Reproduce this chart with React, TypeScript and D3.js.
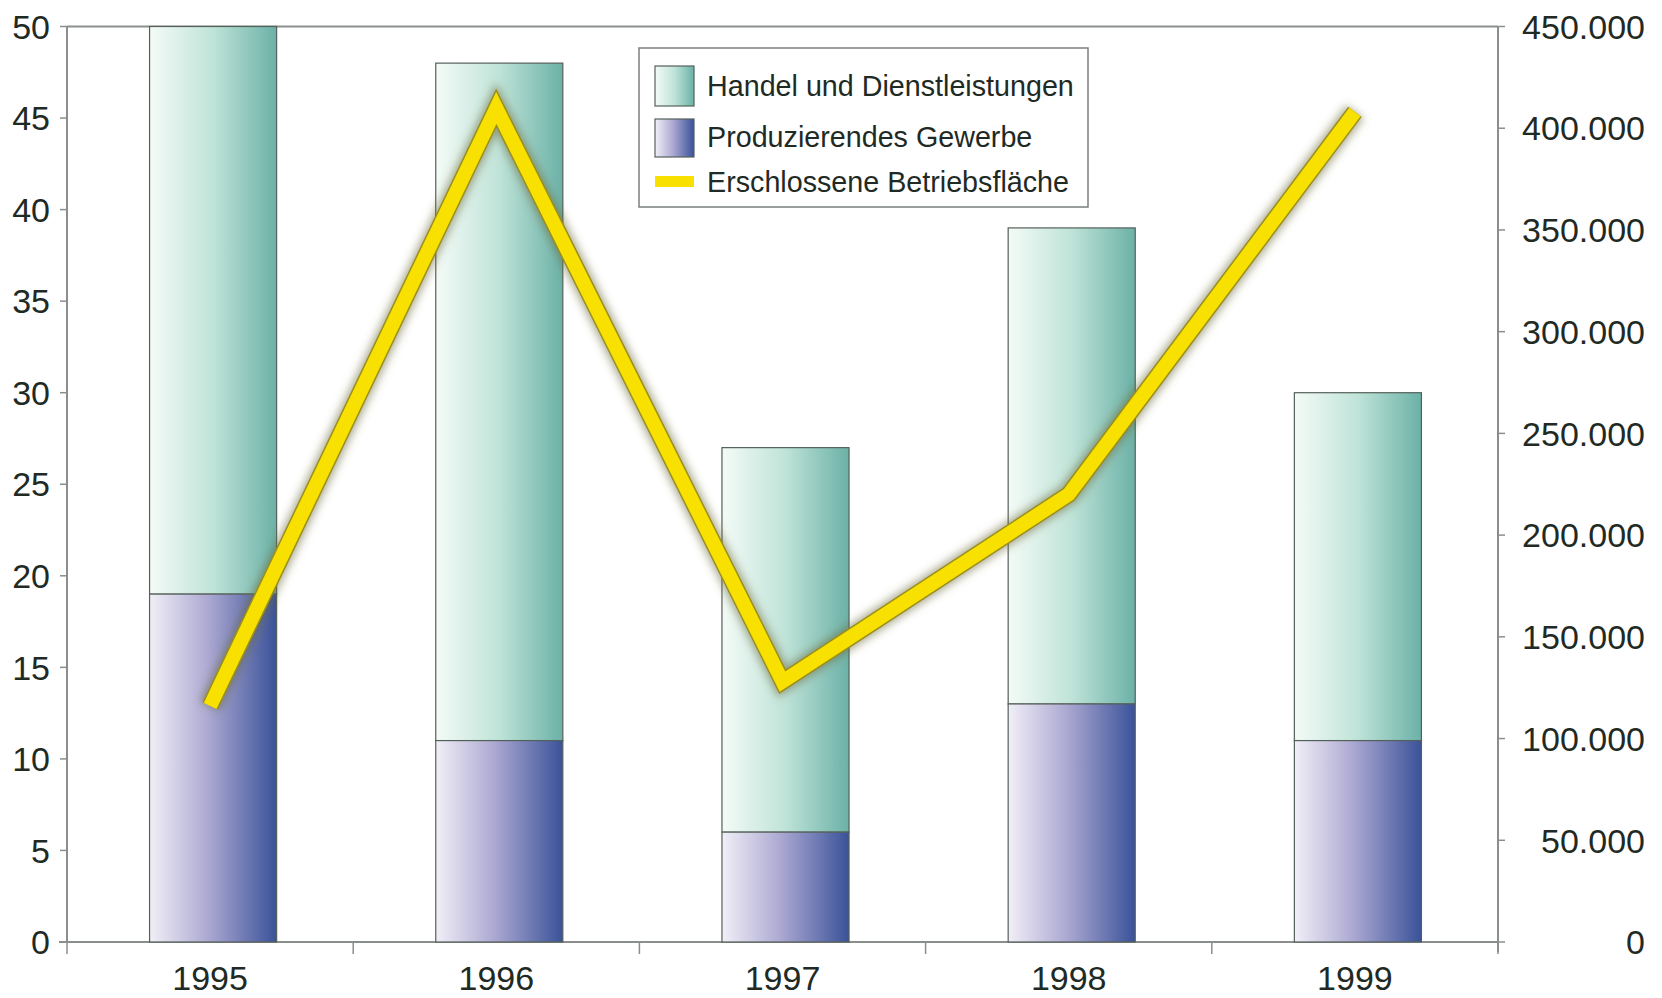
import React from "react";
import * as d3 from "d3";

const years = ["1995", "1996", "1997", "1998", "1999"];
const produzierend = [19, 11, 6, 13, 11];
const handel = [31, 37, 21, 26, 19];
const flaeche = [116000, 410000, 128000, 220000, 408000];
const leftTicks = [0, 5, 10, 15, 20, 25, 30, 35, 40, 45, 50];
const rightTicks = [0, 50000, 100000, 150000, 200000, 250000, 300000, 350000, 400000, 450000];
const legendLabels = ["Handel und Dienstleistungen", "Produzierendes Gewerbe", "Erschlossene Betriebsfläche"];

const W = 1662, H = 998;
const L = 67, R = 1498, T = 26.5, B = 942;
const FONT = "'Liberation Sans', Arial, Helvetica, sans-serif";
const TXT = "#1f2a24";
const AX = "#8a8f8c";

export default function App() {
  const x = d3.scaleBand<string>().domain(years).range([L + 3, R + 3]).paddingInner(0.556).paddingOuter(0.278);
  const xb = d3.scaleBand<string>().domain(years).range([L, R]).padding(0);
  const y = d3.scaleLinear().domain([0, 50]).range([B, T]);
  const y2 = d3.scaleLinear().domain([0, 450000]).range([B, T]);
  const fmt = (v: number) => (v === 0 ? "0" : d3.format(",")(v).replace(/,/g, "."));
  const line = d3.line<number>().x((_, i) => (xb(years[i]) as number) + xb.bandwidth() / 2).y((v) => y2(v));
  const path = line(flaeche) || "";
  const bw = x.bandwidth();
  const boundaries = years.map((yr) => xb(yr) as number).concat([R]);

  return (
    <svg width={W} height={H} style={{ position: "absolute", left: 0, top: 0, background: "#fff" }} fontFamily={FONT}>
      <defs>
        <linearGradient id="gHandel" x1="0" x2="1" y1="0" y2="0">
          <stop offset="0" stopColor="#f4fbf7" />
          <stop offset="0.5" stopColor="#bfe3d8" />
          <stop offset="1" stopColor="#6bb1a7" />
        </linearGradient>
        <linearGradient id="gProd" x1="0" x2="1" y1="0" y2="0">
          <stop offset="0" stopColor="#f1eff7" />
          <stop offset="0.45" stopColor="#aeaad3" />
          <stop offset="1" stopColor="#3a5299" />
        </linearGradient>
        <filter id="shadow" x="-10%" y="-10%" width="120%" height="120%">
          <feGaussianBlur stdDeviation="4" />
        </filter>
      </defs>

      {/* frame */}
      <line x1={L} x2={R} y1={T} y2={T} stroke={AX} strokeWidth={2} />
      <line x1={L} x2={L} y1={T} y2={B} stroke={AX} strokeWidth={2} />
      <line x1={R} x2={R} y1={T} y2={B + 10} stroke={AX} strokeWidth={2} />
      <line x1={L - 8} x2={R} y1={B} y2={B} stroke={AX} strokeWidth={2} />

      {/* left ticks */}
      {leftTicks.map((t) => (
        <g key={"l" + t}>
          <line x1={L - 7} x2={L} y1={y(t)} y2={y(t)} stroke={AX} strokeWidth={1.5} />
          <text x={50} y={y(t)} dy="0.36em" textAnchor="end" fontSize={34} fill={TXT}>{t}</text>
        </g>
      ))}
      {/* right ticks */}
      {rightTicks.map((t) => (
        <g key={"r" + t}>
          <line x1={R} x2={R + 7} y1={y2(t)} y2={y2(t)} stroke={AX} strokeWidth={1.5} />
          <text x={1645} y={y2(t)} dy="0.36em" textAnchor="end" fontSize={34} fill={TXT}>{fmt(t)}</text>
        </g>
      ))}
      {/* x ticks */}
      {boundaries.map((bx, i) => (
        <line key={"xt" + i} x1={bx} x2={bx} y1={B} y2={B + 12} stroke={AX} strokeWidth={1.5} />
      ))}
      {years.map((yr) => (
        <text key={"xl" + yr} x={(xb(yr) as number) + xb.bandwidth() / 2} y={990} textAnchor="middle" fontSize={34} fill={TXT}>{yr}</text>
      ))}

      {/* bars */}
      {years.map((yr, i) => {
        const bx = x(yr) as number;
        const p = produzierend[i];
        const h = handel[i];
        return (
          <g key={"b" + yr}>
            <rect x={bx} y={y(p + h)} width={bw} height={y(p) - y(p + h)} fill="url(#gHandel)" stroke="#55605a" strokeWidth={1.2} />
            <rect x={bx} y={y(p)} width={bw} height={y(0) - y(p)} fill="url(#gProd)" stroke="#55605a" strokeWidth={1.2} />
          </g>
        );
      })}

      {/* line */}
      <path d={path} fill="none" stroke="#6b6a3a" strokeOpacity={0.55} strokeWidth={22} strokeLinejoin="miter" strokeMiterlimit={10} filter="url(#shadow)" />
      <path d={path} fill="none" stroke="#9a8f1e" strokeWidth={17} strokeLinejoin="miter" strokeMiterlimit={10} />
      <path d={path} fill="none" stroke="#f8e100" strokeWidth={14} strokeLinejoin="miter" strokeMiterlimit={10} />

      {/* legend */}
      <rect x={639} y={48} width={449} height={159} fill="#fff" stroke="#7a7f7c" strokeWidth={1.5} />
      <rect x={655} y={66} width={39} height={40} fill="url(#gHandel)" stroke="#55605a" strokeWidth={1.2} />
      <rect x={655} y={119} width={39} height={38} fill="url(#gProd)" stroke="#55605a" strokeWidth={1.2} />
      <rect x={655} y={176} width={39} height={11} fill="#f8e100" />
      <text x={707} y={96} fontSize={28.7} fill={TXT}>{legendLabels[0]}</text>
      <text x={707} y={147} fontSize={28.7} fill={TXT}>{legendLabels[1]}</text>
      <text x={707} y={192} fontSize={28.7} fill={TXT}>{legendLabels[2]}</text>
    </svg>
  );
}
